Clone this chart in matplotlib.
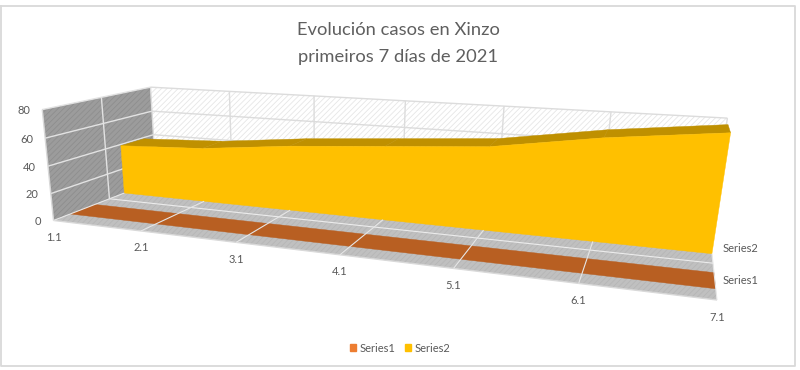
import numpy as np
import matplotlib
matplotlib.use('Agg')
import matplotlib.pyplot as plt
from matplotlib.patches import Polygon, Patch

plt.rcParams['font.family'] = ['Lato', 'DejaVu Sans']
plt.rcParams['hatch.linewidth'] = 0.6

# Datos
dias = ['1.1', '2.1', '3.1', '4.1', '5.1', '6.1', '7.1']
serie1 = [0, 0, 0, 0, 0, 0, 0]
serie2 = [39, 42, 49, 54, 59, 70, 78]
ticks_valor = [0, 20, 40, 60, 80]

# Camara: puntos de control (dia, fondo, valor) -> pixel
control = [
    (0, 0, 0, 53, 220), (1, 0, 0, 142, 231), (2, 0, 0, 236, 242), (3, 0, 0, 340, 255),
    (4, 0, 0, 453, 269), (5, 0, 0, 579, 283), (6, 0, 0, 717, 300),
    (0, 1, 0, 156, 181), (0, 1, 80, 151, 87), (0, 0, 80, 42, 110),
    (1, 1, 80, 229, 91), (2, 1, 80, 314, 96), (3, 1, 80, 406, 101),
    (4, 1, 80, 504, 106), (5, 1, 80, 610, 112), (6, 1, 80, 728, 118),
]
A, b = [], []
for x, d, v, u, w in control:
    A.append([x, d, v, 1, 0, 0, 0, 0, -u*x, -u*d, -u*v])
    A.append([0, 0, 0, 0, x, d, v, 1, -w*x, -w*d, -w*v])
    b += [u, w]
h = np.linalg.lstsq(np.array(A, float), np.array(b, float), rcond=None)[0]
P = np.append(h, 1).reshape(3, 4)


def proj(x, d, v):
    p = P @ np.array([x, d, v, 1.0])
    return p[0]/p[2], p[1]/p[2]


fig = plt.figure(figsize=(8, 3.7), dpi=100)
ax = fig.add_axes([0, 0, 1, 1])
ax.set_xlim(0, 800)
ax.set_ylim(370, 0)
ax.axis('off')

n = len(dias) - 1
d1a, d1b = 0.14, 0.36
d2a, d2b = 0.65, 0.89


def poly(puntos, **kw):
    ax.add_patch(Polygon([proj(*p) for p in puntos], closed=True, **kw))


def linea(p, q, color, lw=1.0):
    a, c = proj(*p), proj(*q)
    ax.plot([a[0], c[0]], [a[1], c[1]], color=color, lw=lw, solid_capstyle='butt', zorder=1)


# Paredes y suelo
poly([(0, 1, 0), (n, 1, 0), (n, 1, 80), (0, 1, 80)], facecolor='white', edgecolor='#e6e6e6', hatch='//////', lw=0)
poly([(0, 0, 0), (0, 1, 0), (0, 1, 80), (0, 0, 80)], facecolor='#9c9c9c', edgecolor='#8e8e8e', hatch='//////', lw=0)
poly([(0, 0, 0), (n, 0, 0), (n, 1, 0), (0, 1, 0)], facecolor='#c0c0c0', edgecolor='#b6b6b6', hatch='//////', lw=0)

for v in ticks_valor[1:]:
    linea((0, 1, v), (n, 1, v), '#dcdcdc')
    linea((0, 0, v), (0, 1, v), '#e2e2e2')
for i in range(n + 1):
    linea((i, 1, 0), (i, 1, 80), '#dcdcdc')
linea((0, 0.5, 0), (0, 0.5, 80), '#e2e2e2')
linea((0, 0, 0), (0, 0, 80), '#d9d9d9')
linea((0, 0, 0), (n, 0, 0), '#d9d9d9')
linea((0, 0.5, 0), (n, 0.5, 0), '#ececec', 0.8)

# Serie 2
for i in range(n):
    poly([(i, d2a, serie2[i]), (i+1, d2a, serie2[i+1]), (i+1, d2b, serie2[i+1]), (i, d2b, serie2[i])],
         facecolor='#BF9000', edgecolor='#BF9000', lw=0.3)
cara = [(i, d2a, serie2[i]) for i in range(n + 1)] + [(n, d2a, 0), (0, d2a, 0)]
poly(cara, facecolor='#FFC000', edgecolor='#FFC000', lw=0.3)

# Serie 1
poly([(i, d1a, serie1[i]) for i in range(n + 1)] + [(i, d1b, serie1[i]) for i in range(n, -1, -1)],
     facecolor='#B85F22', edgecolor='#B85F22', lw=0.3)

# Lineas del suelo por encima
for i in range(n + 1):
    linea((i, 0, 0), (i, d2a, 0), '#e6e6e6', 0.8)

# Etiquetas
gris = '#595959'
for v in ticks_valor:
    u, w = proj(0, 0, v)
    ax.text(u - 12, w + 1, str(v), ha='right', va='center', fontsize=8, color=gris)
for i, d in enumerate(dias):
    u, w = proj(i, 0, 0)
    ax.text(u, w + 17, d, ha='center', va='center', fontsize=8, color=gris)
u, w = proj(n, d2a, 0)
ax.text(723, w - 5, 'Series2', ha='left', va='center', fontsize=8, color=gris)
u, w = proj(n, d1b, 0)
ax.text(723, w + 8, 'Series1', ha='left', va='center', fontsize=8, color=gris)

ax.text(398, 30, 'Evolución casos en Xinzo', ha='center', va='center', fontsize=13.2, color='#5f5f5f')
ax.text(398, 57, 'primeiros 7 días de 2021', ha='center', va='center', fontsize=13.2, color='#5f5f5f')

ax.legend(handles=[Patch(color='#ED7D31', label='Series1'), Patch(color='#FFC000', label='Series2')],
          ncol=2, frameon=False, loc='center', bbox_to_anchor=(400, 348), bbox_transform=ax.transData,
          fontsize=8, labelcolor=gris, handlelength=0.55, handleheight=0.55, handletextpad=0.3, columnspacing=0.9)

# Marco
ax.plot([1, 795, 795, 1, 1], [6, 6, 366, 366, 6], color='#d9d9d9', lw=1.3)

fig.savefig('out.png', dpi=100)
